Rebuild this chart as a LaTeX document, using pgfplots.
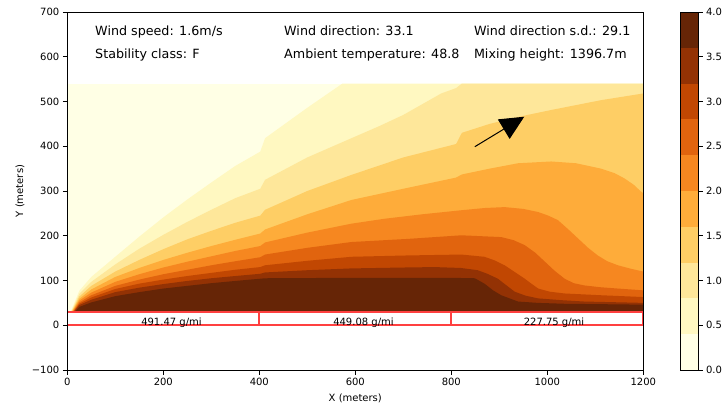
\documentclass[border=0pt]{standalone}
\usepackage{pgfplots}
\pgfplotsset{compat=1.18}
\usepackage{fontspec}
\setmainfont{DejaVu Sans}
\usetikzlibrary{arrows.meta}
\definecolor{c0}{HTML}{FFFFE5}
\definecolor{c1}{HTML}{FFF8C1}
\definecolor{c2}{HTML}{FEE79A}
\definecolor{c3}{HTML}{FECE65}
\definecolor{c4}{HTML}{FEAC3A}
\definecolor{c5}{HTML}{F68720}
\definecolor{c6}{HTML}{E1640E}
\definecolor{c7}{HTML}{C14702}
\definecolor{c8}{HTML}{933204}
\definecolor{c9}{HTML}{662506}
\begin{document}
\begin{tikzpicture}
\path[use as bounding box] (0,0) rectangle (724pt,408pt);
\begin{axis}[
  at={(67.3pt,38pt)}, anchor=south west,
  width=576pt, height=358pt, scale only axis,
  xmin=0, xmax=1200, ymin=-100, ymax=700,
  axis on top,
  tick align=outside, tick pos=left,
  major tick length=4.5pt,
  every tick/.style={black, line width=0.8pt},
  axis line style={line width=0.8pt},
  xtick={0,200,400,600,800,1000,1200},
  xticklabels={0,200,400,600,800,1000,1200},
  ytick={-100,0,100,200,300,400,500,600,700},
  yticklabels={−100,0,100,200,300,400,500,600,700},
  tick label style={font=\fontsize{10}{12}\selectfont},
  xlabel={X (meters)}, ylabel={Y (meters)},
  label style={font=\fontsize{10.3}{12}\selectfont},
  every axis x label/.style={at={(axis description cs:0.5,-0.078)},anchor=center},
  every axis y label/.style={at={(axis description cs:-0.082,0.5)},rotate=90,anchor=center},
]
% base level (0.0-0.4)
\addplot[fill=c0, draw=none] coordinates {(0,30) (1200,30) (1200,540) (0,540)};
% >= 0.4
\addplot[fill=c1, draw=none] coordinates {(7,30) (25,77) (50,108) (100,153) (150,198) (200,241) (250,281) (300,319) (350,356) (402,388) (412,418) (500,486) (573,540) (1200,540) (1200,30)};
% >= 0.8
\addplot[fill=c2, draw=none] coordinates {(8,30) (25,70) (50,97) (100,136) (150,171) (200,202) (250,231) (300,258) (350,284) (402,305) (412,325) (500,375) (592,418) (650,445) (700,470) (779,518) (810,530) (822,540) (1200,540) (1200,30)};
% >= 1.2
\addplot[fill=c3, draw=none] coordinates {(9,30) (25,64) (50,88) (100,120) (150,146) (200,170) (250,192) (300,211) (350,229) (402,245) (412,258) (500,300) (592,336) (700,375) (810,405) (822,430) (880,450) (950,468) (1008,481) (1112,503) (1200,518) (1200,30)};
% >= 1.6
\addplot[fill=c4, draw=none] coordinates {(10,30) (25,59) (50,80) (100,108) (150,128) (200,146) (250,162) (300,177) (350,191) (402,205) (412,214) (500,248) (592,280) (700,305) (810,330) (822,337) (880,350) (939,362) (1008,366) (1060,362) (1112,350) (1140,340) (1161,328) (1180,314) (1195,299) (1200,295) (1200,30)};
% >= 2.0
\addplot[fill=c5, draw=none] coordinates {(11,30) (25,55) (50,73) (100,97) (150,114) (200,129) (250,142) (300,154) (350,166) (402,177) (412,185) (500,207) (592,227) (661,238) (740,248) (821,257) (870,262) (911,264) (950,260) (981,253) (1002,245) (1022,235) (1043,215) (1064,194) (1085,173) (1105,156) (1125,143) (1147,134) (1175,126) (1200,120) (1200,30)};
% >= 2.4
\addplot[fill=c6, draw=none] coordinates {(12,30) (25,51) (50,67) (100,88) (150,102) (200,114) (250,124) (300,134) (350,143) (402,152) (412,158) (500,173) (592,186) (710,193) (821,201) (904,197) (930,190) (953,179) (975,162) (995,142) (1015,122) (1036,104) (1055,94) (1077,89) (1110,85) (1147,82) (1200,78) (1200,30)};
% >= 2.8
\addplot[fill=c7, draw=none] coordinates {(13,30) (25,48) (50,62) (100,81) (150,93) (200,102) (250,110) (300,117) (350,124) (402,130) (412,134) (500,144) (592,153) (710,156) (821,158) (869,153) (890,145) (911,134) (932,119) (953,104) (968,92) (981,82) (1005,75) (1036,71) (1113,67) (1200,63) (1200,30)};
% >= 3.2
\addplot[fill=c8, draw=none] coordinates {(14,30) (25,45) (50,57) (100,74) (150,84) (200,92) (250,99) (300,105) (350,110) (402,115) (412,118) (500,123) (592,127) (700,129) (765,130) (820,128) (855,123) (875,115) (897,104) (915,89) (932,75) (955,66) (981,60) (1030,56) (1077,53) (1200,50) (1200,30)};
% >= 3.6
\addplot[fill=c9, draw=none] coordinates {(16,30) (25,41) (50,51) (100,65) (150,74) (200,82) (250,88) (300,94) (350,99) (402,104) (412,105) (592,106) (700,106) (800,106) (849,105) (869,93) (887,78) (904,67) (939,53) (980,50) (1036,48) (1120,47) (1200,46) (1200,30)};
% road links: outline of each 400 m link
\addplot[draw=red!75!white, fill=none, solid, mark=none, line width=1.8pt] coordinates {(0,0) (1200,0)};
\addplot[draw=red!75!white, fill=none, solid, mark=none, line width=1.8pt] coordinates {(0,30) (1200,30)};
\addplot[draw=red!75!white, solid, mark=none, line width=1.8pt] coordinates {(400,0) (400,30)};
\addplot[draw=red!75!white, solid, mark=none, line width=1.8pt] coordinates {(800,0) (800,30)};
\addplot[draw=red!75!white, solid, mark=none, line width=1.8pt] coordinates {(1200,0) (1200,30)};
\addplot[draw=red!75!white, solid, mark=none, line width=1.8pt] coordinates {(0,0) (0,30)};
\node[anchor=base, font=\fontsize{10}{12}\selectfont] at (axis cs:217,0) {491.47 g/mi};
\node[anchor=base, font=\fontsize{10}{12}\selectfont] at (axis cs:617,0) {449.08 g/mi};
\node[anchor=base, font=\fontsize{10}{12}\selectfont] at (axis cs:1014,0) {227.75 g/mi};
% wind arrow
\addplot[black, solid, mark=none, line width=1pt, -{Triangle[length=24pt,width=22.6pt]}] coordinates {(849,399) (952,466)};
% annotations
\node[anchor=base west, font=\fontsize{12.7}{15}\selectfont] at (axis cs:50.8,648.5) {Wind speed: 1.6m/s};
\node[anchor=base west, font=\fontsize{12.7}{15}\selectfont] at (axis cs:444.5,648.5) {Wind direction: 33.1};
\node[anchor=base west, font=\fontsize{12.7}{15}\selectfont] at (axis cs:840,648.5) {Wind direction s.d.: 29.1};
\node[anchor=base west, font=\fontsize{12.7}{15}\selectfont] at (axis cs:50.8,595) {Stability class: F};
\node[anchor=base west, font=\fontsize{12.7}{15}\selectfont] at (axis cs:444.5,595) {Ambient temperature: 48.8};
\node[anchor=base west, font=\fontsize{12.7}{15}\selectfont] at (axis cs:840,595) {Mixing height: 1396.7m};
\end{axis}
% colorbar
\begin{axis}[
  at={(680.7pt,38pt)}, anchor=south west,
  width=17.3pt, height=358pt, scale only axis,
  xmin=0, xmax=1, ymin=0, ymax=4,
  axis on top,
  xtick=\empty,
  ytick={0,0.5,1,1.5,2,2.5,3,3.5,4},
  yticklabels={0.0,0.5,1.0,1.5,2.0,2.5,3.0,3.5,4.0},
  ytick pos=right, yticklabel pos=right,
  tick align=outside, major tick length=4.5pt,
  every tick/.style={black, line width=0.8pt},
  axis line style={line width=0.8pt},
  tick label style={font=\fontsize{10}{12}\selectfont},
]
\addplot[fill=c0, draw=none] coordinates {(0,0) (1,0) (1,0.4) (0,0.4)};
\addplot[fill=c1, draw=none] coordinates {(0,0.4) (1,0.4) (1,0.8) (0,0.8)};
\addplot[fill=c2, draw=none] coordinates {(0,0.8) (1,0.8) (1,1.2) (0,1.2)};
\addplot[fill=c3, draw=none] coordinates {(0,1.2) (1,1.2) (1,1.6) (0,1.6)};
\addplot[fill=c4, draw=none] coordinates {(0,1.6) (1,1.6) (1,2.0) (0,2.0)};
\addplot[fill=c5, draw=none] coordinates {(0,2.0) (1,2.0) (1,2.4) (0,2.4)};
\addplot[fill=c6, draw=none] coordinates {(0,2.4) (1,2.4) (1,2.8) (0,2.8)};
\addplot[fill=c7, draw=none] coordinates {(0,2.8) (1,2.8) (1,3.2) (0,3.2)};
\addplot[fill=c8, draw=none] coordinates {(0,3.2) (1,3.2) (1,3.6) (0,3.6)};
\addplot[fill=c9, draw=none] coordinates {(0,3.6) (1,3.6) (1,4.0) (0,4.0)};
\end{axis}
\end{tikzpicture}
\end{document}
